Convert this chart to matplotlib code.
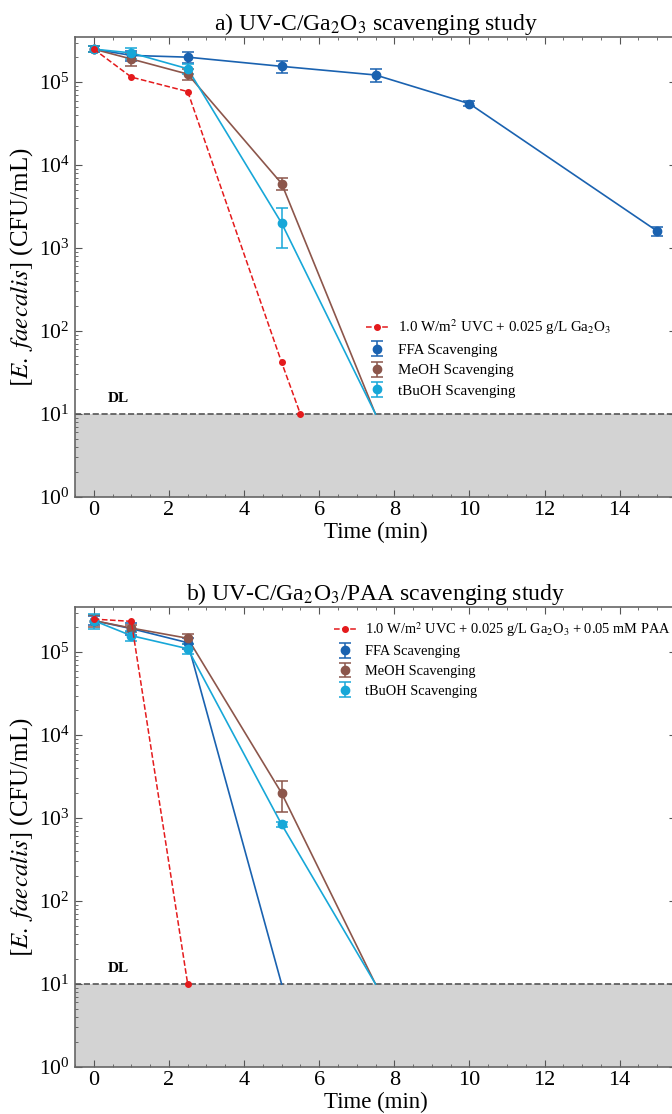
import matplotlib
matplotlib.use("Agg")
import matplotlib.pyplot as plt
import numpy as np

plt.rcParams['font.family'] = ['Liberation Serif', 'DejaVu Serif']
plt.rcParams['mathtext.fontset'] = 'stix'

# ---------------- data: panel a ----------------
a_ctrl_t = [0, 1, 2.5, 5, 5.5]
a_ctrl_y = [2.5e5, 1.15e5, 7.7e4, 42, 10]

a_ffa_t = [0, 1, 2.5, 5, 7.5, 10, 15]
a_ffa_y = [2.5e5, 2.1e5, 2.0e5, 1.55e5, 1.22e5, 5.5e4, 1.6e3]
a_ffa_e = [2.0e4, 3.0e4, 3.0e4, 2.5e4, 2.2e4, 4.0e3, 2.0e2]

a_meoh_t = [0, 1, 2.5, 5, 7.5]
a_meoh_y = [2.5e5, 1.9e5, 1.25e5, 6.0e3, 10]
a_meoh_e = [2.0e4, 3.5e4, 2.0e4, 1.0e3, 0]

a_tbuoh_t = [0, 1, 2.5, 5, 7.5]
a_tbuoh_y = [2.5e5, 2.25e5, 1.45e5, 2.0e3, 10]
a_tbuoh_e = [2.0e4, 3.5e4, 2.0e4, 1.0e3, 0]

# ---------------- data: panel b ----------------
b_ctrl_t = [0, 1, 2.5]
b_ctrl_y = [2.5e5, 2.35e5, 10]

b_ffa_t = [0, 1, 2.5, 5]
b_ffa_y = [2.4e5, 1.92e5, 1.3e5, 10]
b_ffa_e = [3.0e4, 3.0e4, 2.0e4, 0]

b_meoh_t = [0, 1, 2.5, 5, 7.5]
b_meoh_y = [2.4e5, 1.95e5, 1.47e5, 2.0e3, 10]
b_meoh_e = [4.0e4, 2.0e4, 2.0e4, 8.0e2, 0]

b_tbuoh_t = [0, 1, 2.5, 5, 7.5]
b_tbuoh_y = [2.4e5, 1.58e5, 1.1e5, 8.4e2, 10]
b_tbuoh_e = [5.0e4, 2.0e4, 1.5e4, 6.0e1, 0]

DL = 10
xticks = [0, 2, 4, 6, 8, 10, 12, 14]

c_red = '#e41a1c'
c_ffa = '#1a62b0'
c_meoh = '#8c564b'
c_tbuoh = '#17a7d8'

fig = plt.figure(figsize=(6.72, 11.14), dpi=100)
W, H = 672, 1114
axA = fig.add_axes([75 / W, (H - 497) / H, 601 / W, 460 / H])
axB = fig.add_axes([75 / W, (H - 1067) / H, 601 / W, 460 / H])


def panel(ax, title, ctrl_label, ctrl, ffa, meoh, tbuoh, leg_anchor, leg_fs):
    ax.set_yscale('log')
    ax.set_xlim(-0.5, 15.5)
    ax.set_ylim(1, 3.5e5)
    ax.axhspan(1, DL, color='#d3d3d3', zorder=0, lw=0)
    ax.axhline(DL, color='#555555', ls='--', lw=1.2, zorder=1)
    ax.text(0.38, 13, 'DL', fontsize=11, fontweight='bold', ha='left', va='bottom')

    ax.plot(ctrl[0], ctrl[1], ls='--', color=c_red, marker='o', ms=4, lw=1.1,
            label=ctrl_label, zorder=4)
    for (t, y, e), c, lab in [(ffa, c_ffa, 'FFA Scavenging'),
                              (meoh, c_meoh, 'MeOH Scavenging'),
                              (tbuoh, c_tbuoh, 'tBuOH Scavenging')]:
        yerr = np.array(e)
        ye = np.vstack([np.minimum(yerr, np.array(y) * 0.999), yerr])
        ax.plot(t, y, color=c, lw=1.2, zorder=3)
        m = np.array(y) > DL
        ax.errorbar(np.array(t)[m], np.array(y)[m], yerr=ye[:, m], fmt='o', color=c,
                    ms=6, capsize=4, elinewidth=1.1, capthick=1.1, label=lab, zorder=3)

    ax.set_title(title, fontsize=17, pad=4)
    ax.set_xlabel('Time (min)', fontsize=16.5, labelpad=1)
    ax.set_ylabel(r'$[E.\ faecalis]$ (CFU/mL)', fontsize=18)
    ax.yaxis.set_label_coords(-0.067, 0.5)
    ax.set_xticks(xticks)
    ax.set_xticks(np.arange(-0.5, 15.6, 0.5), minor=True)
    ax.tick_params(axis='both', which='both', direction='in', top=True, right=True,
                   color='#555555')
    ax.tick_params(axis='x', labelsize=16, pad=3)
    ax.tick_params(axis='y', labelsize=15.5, pad=4)
    ax.tick_params(which='major', length=5)
    ax.tick_params(which='minor', length=2.5)
    for s in ax.spines.values():
        s.set_color('#666666')
        s.set_linewidth(1.2)
    ax.legend(loc='upper left', bbox_to_anchor=leg_anchor, frameon=False,
              fontsize=leg_fs, handlelength=1.5, handletextpad=0.6, labelspacing=0.45)


panel(axA, r'a) UV-C/Ga$_2$O$_3$ scavenging study',
      r'1.0 W/m$^2$ UVC + 0.025 g/L Ga$_2$O$_3$',
      (a_ctrl_t, a_ctrl_y),
      (a_ffa_t, a_ffa_y, a_ffa_e),
      (a_meoh_t, a_meoh_y, a_meoh_e),
      (a_tbuoh_t, a_tbuoh_y, a_tbuoh_e),
      (0.462, 0.42), 10.8)
panel(axB, r'b) UV-C/Ga$_2$O$_3$/PAA scavenging study',
      r'1.0 W/m$^2$ UVC + 0.025 g/L Ga$_2$O$_3$ + 0.05 mM PAA',
      (b_ctrl_t, b_ctrl_y),
      (b_ffa_t, b_ffa_y, b_ffa_e),
      (b_meoh_t, b_meoh_y, b_meoh_e),
      (b_tbuoh_t, b_tbuoh_y, b_tbuoh_e),
      (0.41, 1.0), 10.4)

fig.savefig('out.png', dpi=100)
